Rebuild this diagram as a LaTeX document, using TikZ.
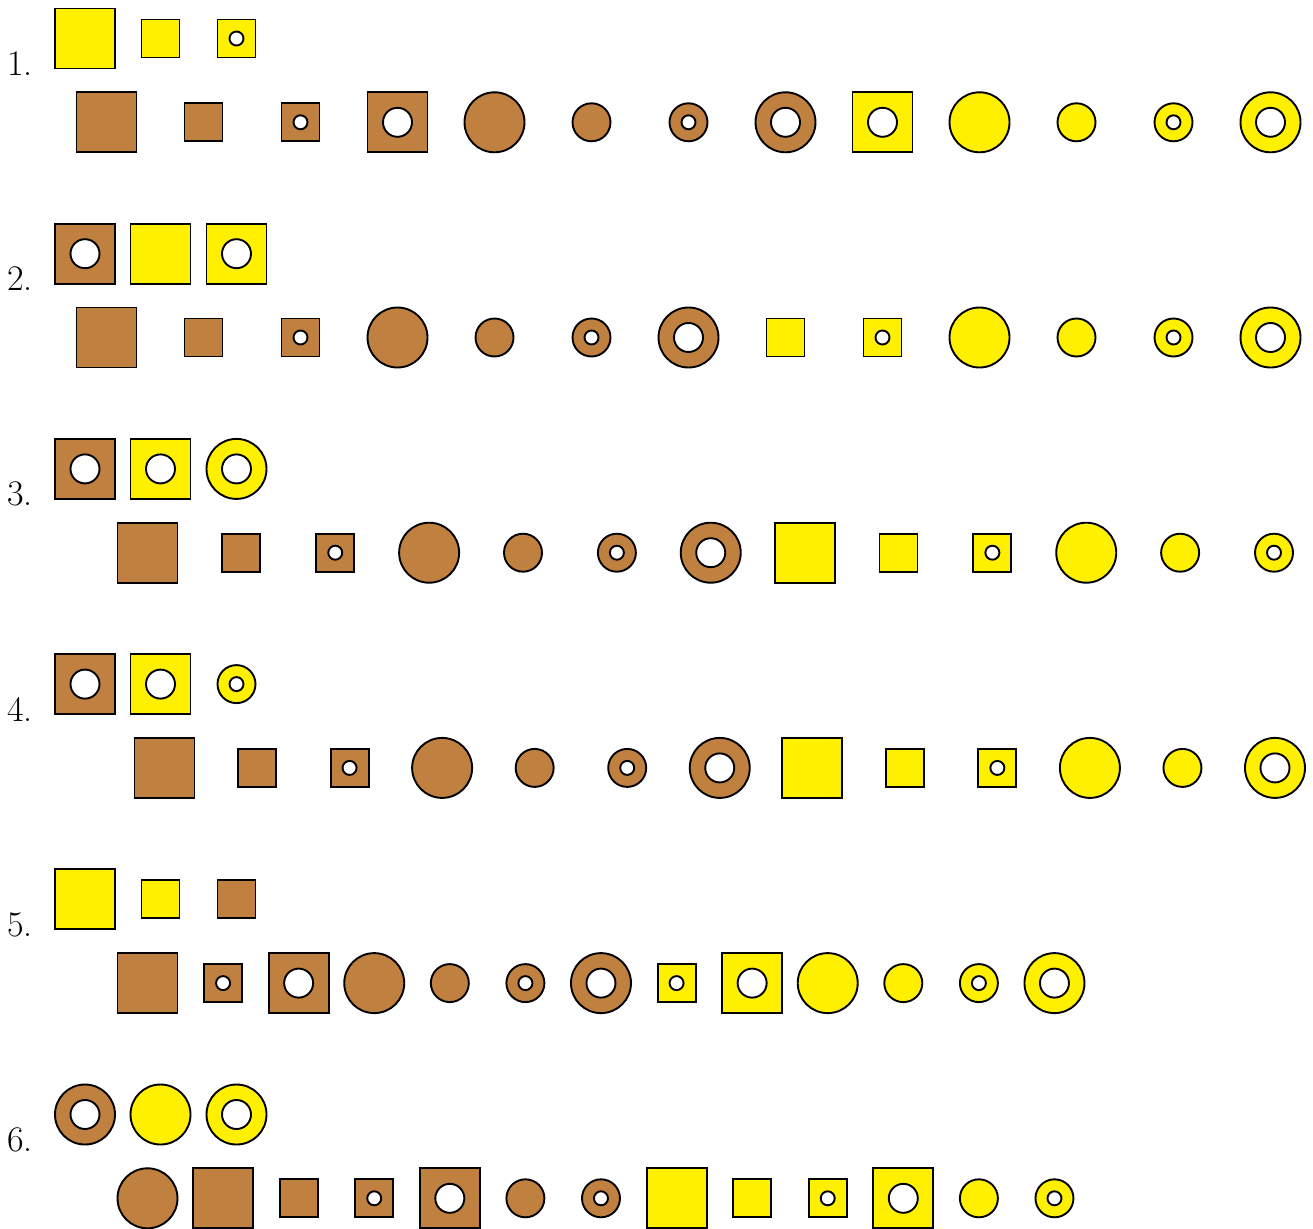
\documentclass[tikz,border=0pt]{standalone}
\definecolor{brn}{rgb}{.75,.5,.25}
\definecolor{yel}{RGB}{255,240,0}
\tikzset{bd/.style={draw=black, line width=1.9pt},
  lab/.style={anchor=base west, inner sep=0pt, font=\fontsize{36}{43}\selectfont}}
\newcommand\mysq[4]{\draw[bd, fill=#4] ({#1-#3},{#2-#3}) rectangle ({#1+#3},{#2+#3});}
\newcommand\myci[4]{\draw[bd, fill=#4] ({#1},{#2}) circle[radius=#3pt];}
\newcommand\myho[3]{\draw[bd, fill=white] ({#1},{#2}) circle[radius=#3pt];}
\newcommand\shLS[3]{\mysq{#2}{#3}{30}{#1}}
\newcommand\shSS[3]{\mysq{#2}{#3}{19}{#1}}
\newcommand\shSSh[3]{\mysq{#2}{#3}{19}{#1}\myho{#2}{#3}{7}}
\newcommand\shLSh[3]{\mysq{#2}{#3}{30}{#1}\myho{#2}{#3}{14.5}}
\newcommand\shLC[3]{\myci{#2}{#3}{30}{#1}}
\newcommand\shSC[3]{\myci{#2}{#3}{19}{#1}}
\newcommand\shSCh[3]{\myci{#2}{#3}{19}{#1}\myho{#2}{#3}{7}}
\newcommand\shLCh[3]{\myci{#2}{#3}{30}{#1}\myho{#2}{#3}{14.5}}
\begin{document}
\begin{tikzpicture}[x=1pt,y=-1pt]
\useasboundingbox (0,0) rectangle (1313,1228);
\clip (0,0) rectangle (1313,1228);
% labels
\node[lab] (l1) at (7,75.5) {1.};
\node[lab] (l2) at (7,290.7) {2.};
\node[lab] (l3) at (7,505.9) {3.};
\node[lab] (l4) at (7,721.1) {4.};
\node[lab] (l5) at (7,936.3) {5.};
\node[lab] (l6) at (7,1151.5) {6.};
% row 1
\shLS{yel}{85}{38.5} \shSS{yel}{160.5}{38.5} \shSSh{yel}{236.5}{38.5}
\foreach \m/\c [count=\i from 0] in {\shLS/brn,\shSS/brn,\shSSh/brn,\shLSh/brn,\shLC/brn,\shSC/brn,\shSCh/brn,\shLCh/brn,\shLSh/yel,\shLC/yel,\shSC/yel,\shSCh/yel,\shLCh/yel}
  {\m{\c}{106.5+97*\i}{122.3}}
% row 2
\shLSh{brn}{85}{253.7} \shLS{yel}{160.5}{253.7} \shLSh{yel}{236.5}{253.7}
\foreach \m/\c [count=\i from 0] in {\shLS/brn,\shSS/brn,\shSSh/brn,\shLC/brn,\shSC/brn,\shSCh/brn,\shLCh/brn,\shSS/yel,\shSSh/yel,\shLC/yel,\shSC/yel,\shSCh/yel,\shLCh/yel}
  {\m{\c}{106.5+97*\i}{337.5}}
% row 3
\shLSh{brn}{85}{468.9} \shLSh{yel}{160.5}{468.9} \shLCh{yel}{236.5}{468.9}
\foreach \m/\c [count=\i from 0] in {\shLS/brn,\shSS/brn,\shSSh/brn,\shLC/brn,\shSC/brn,\shSCh/brn,\shLCh/brn,\shLS/yel,\shSS/yel,\shSSh/yel,\shLC/yel,\shSC/yel,\shSCh/yel}
  {\m{\c}{147.5+93.875*\i}{552.7}}
% row 4
\shLSh{brn}{85}{684.1} \shLSh{yel}{160.5}{684.1} \shSCh{yel}{236.5}{684.1}
\foreach \m/\c [count=\i from 0] in {\shLS/brn,\shSS/brn,\shSSh/brn,\shLC/brn,\shSC/brn,\shSCh/brn,\shLCh/brn,\shLS/yel,\shSS/yel,\shSSh/yel,\shLC/yel,\shSC/yel,\shLCh/yel}
  {\m{\c}{164.5+92.54*\i}{767.9}}
% row 5
\shLS{yel}{85}{899.3} \shSS{yel}{160.5}{899.3} \shSS{brn}{236.5}{899.3}
\foreach \m/\c [count=\i from 0] in {\shLS/brn,\shSSh/brn,\shLSh/brn,\shLC/brn,\shSC/brn,\shSCh/brn,\shLCh/brn,\shSSh/yel,\shLSh/yel,\shLC/yel,\shSC/yel,\shSCh/yel,\shLCh/yel}
  {\m{\c}{147.5+75.58*\i}{983.1}}
% row 6
\shLCh{brn}{85}{1114.5} \shLC{yel}{160.5}{1114.5} \shLCh{yel}{236.5}{1114.5}
\foreach \m/\c [count=\i from 0] in {\shLC/brn,\shLS/brn,\shSS/brn,\shSSh/brn,\shLSh/brn,\shSC/brn,\shSCh/brn,\shLS/yel,\shSS/yel,\shSSh/yel,\shLSh/yel,\shSC/yel,\shSCh/yel}
  {\m{\c}{147.5+75.58*\i}{1198.3}}
\end{tikzpicture}
\end{document}
